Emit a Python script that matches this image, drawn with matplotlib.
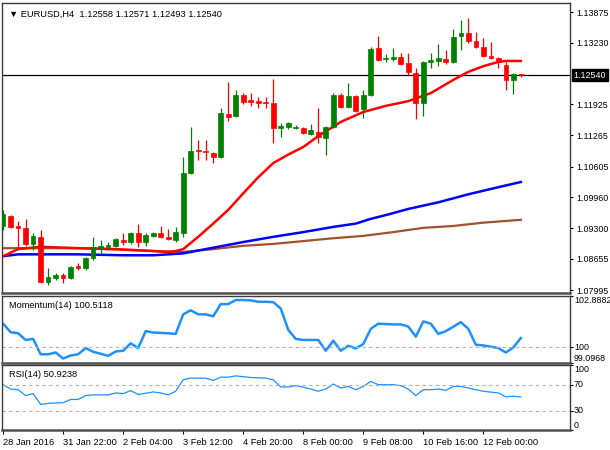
import matplotlib
matplotlib.use("Agg")
import matplotlib.pyplot as plt
import numpy as np

plt.rcParams["font.family"] = ["Liberation Sans", "DejaVu Sans"]

# EURUSD H4 candles
opens = [1.0935, 1.0956, 1.0935, 1.0931, 1.0897, 1.0912, 1.0817, 1.0825, 1.0831, 1.0825,
         1.0850, 1.0846, 1.0867, 1.0888, 1.0891, 1.0893, 1.0905, 1.0901, 1.0920, 1.0901,
         1.0914, 1.0920, 1.0912, 1.0905, 1.0920, 1.1047, 1.1096, 1.1094, 1.1089, 1.1081,
         1.1172, 1.1168, 1.1212, 1.1201, 1.1199, 1.1197, 1.1195, 1.1142, 1.1144, 1.1142,
         1.1142, 1.1130, 1.1134, 1.1121, 1.1144, 1.1212, 1.1187, 1.1210, 1.1182, 1.1212,
         1.1311, 1.1288, 1.1288, 1.1292, 1.1280, 1.1258, 1.1195, 1.1282, 1.1284, 1.1288,
         1.1282, 1.1337, 1.1343, 1.1326, 1.1314, 1.1295, 1.1290, 1.1275, 1.1244, 1.12558]
highs = [1.0969, 1.0958, 1.0946, 1.0950, 1.0920, 1.0926, 1.0846, 1.0836, 1.0836, 1.0850,
         1.0857, 1.0869, 1.0912, 1.0905, 1.0901, 1.0910, 1.0920, 1.0922, 1.0939, 1.0920,
         1.0922, 1.0935, 1.0929, 1.0933, 1.1081, 1.1144, 1.1117, 1.1117, 1.1091, 1.1185,
         1.1240, 1.1223, 1.1216, 1.1216, 1.1208, 1.1208, 1.1246, 1.1153, 1.1155, 1.1149,
         1.1144, 1.1151, 1.1185, 1.1146, 1.1216, 1.1216, 1.1237, 1.1212, 1.1223, 1.1313,
         1.1337, 1.1299, 1.1311, 1.1301, 1.1301, 1.1269, 1.1284, 1.1301, 1.1320, 1.1307,
         1.1352, 1.1371, 1.1375, 1.1345, 1.1333, 1.1324, 1.1292, 1.1282, 1.1258, 1.12571]
lows = [1.0927, 1.0931, 1.0886, 1.0893, 1.0884, 1.0814, 1.0810, 1.0821, 1.0814, 1.0823,
        1.0842, 1.0842, 1.0863, 1.0876, 1.0884, 1.0891, 1.0895, 1.0897, 1.0891, 1.0893,
        1.0912, 1.0910, 1.0905, 1.0901, 1.0912, 1.1045, 1.1075, 1.1075, 1.1068, 1.1079,
        1.1157, 1.1165, 1.1193, 1.1189, 1.1185, 1.1185, 1.1111, 1.1123, 1.1140, 1.1140,
        1.1130, 1.1127, 1.1111, 1.1085, 1.1142, 1.1185, 1.1185, 1.1176, 1.1163, 1.1210,
        1.1284, 1.1282, 1.1284, 1.1275, 1.1254, 1.1161, 1.1168, 1.1269, 1.1273, 1.1278,
        1.1280, 1.1307, 1.1322, 1.1311, 1.1292, 1.1288, 1.1269, 1.1223, 1.1214, 1.12493]
closes = [1.0960, 1.0933, 1.0931, 1.0897, 1.0914, 1.0817, 1.0827, 1.0831, 1.0825, 1.0848,
          1.0846, 1.0867, 1.0891, 1.0893, 1.0895, 1.0907, 1.0901, 1.0920, 1.0901, 1.0916,
          1.0920, 1.0912, 1.0907, 1.0922, 1.1047, 1.1094, 1.1094, 1.1091, 1.1081, 1.1174,
          1.1165, 1.1212, 1.1197, 1.1197, 1.1195, 1.1195, 1.1142, 1.1146, 1.1153, 1.1144,
          1.1132, 1.1138, 1.1123, 1.1144, 1.1212, 1.1187, 1.1210, 1.1178, 1.1212, 1.1309,
          1.1286, 1.1290, 1.1292, 1.1278, 1.1261, 1.1195, 1.1282, 1.1286, 1.1290, 1.1282,
          1.1335, 1.1343, 1.1326, 1.1314, 1.1295, 1.1290, 1.1282, 1.1244, 1.1256, 1.12540]

# moving averages read at some bars
ma_red_idx = [0, 2, 5, 10, 15, 20, 22, 23, 24, 25, 26, 27, 28, 30, 32, 34, 36, 38, 40,
              42, 45, 48, 51, 54, 57, 60, 62, 64, 66, 67, 69]
ma_red = [1.0871, 1.0886, 1.0891, 1.0888, 1.0886, 1.0882, 1.0880, 1.0882, 1.0886, 1.0899,
          1.0912, 1.0926, 1.0940, 1.0969, 1.1004, 1.1038, 1.1068, 1.1086, 1.1102,
          1.1125, 1.1155, 1.1176, 1.1189, 1.1199, 1.1216, 1.1244, 1.1261, 1.1273,
          1.1282, 1.1284, 1.1284]
ma_blue_idx = [0, 2, 10, 16, 20, 24, 27, 32, 36, 40, 44, 47, 49, 51, 54, 58, 62, 66, 69]
ma_blue = [1.0871, 1.0875, 1.0875, 1.0873, 1.0873, 1.0877, 1.0886, 1.0901, 1.0912, 1.0922,
           1.0933, 1.0940, 1.0950, 1.0958, 1.0971, 1.0985, 1.1002, 1.1017, 1.1028]
ma_brown_idx = [0, 10, 14, 20, 24, 28, 32, 36, 40, 44, 48, 52, 56, 60, 64, 69]
ma_brown = [1.0888, 1.0888, 1.0886, 1.0882, 1.0880, 1.0886, 1.0893, 1.0897, 1.0903, 1.0909,
            1.0914, 1.0922, 1.0931, 1.0935, 1.0942, 1.0948]

momentum = [101.32, 100.84, 100.78, 100.40, 100.46, 99.59, 99.59, 99.69, 99.35, 99.52,
            99.59, 99.94, 99.73, 99.62, 99.50, 99.75, 99.79, 100.21, 99.94, 100.90,
            100.82, 100.80, 100.78, 100.74, 101.85, 102.08, 101.85, 101.85, 101.74, 102.43,
            102.43, 102.66, 102.66, 102.64, 102.56, 102.56, 102.54, 102.18, 100.97, 100.46,
            100.40, 100.40, 100.40, 99.79, 100.36, 99.79, 100.07, 99.92, 100.17, 101.03,
            101.32, 101.30, 101.28, 101.28, 101.16, 100.59, 101.45, 101.32, 100.74, 100.90,
            101.15, 101.41, 101.03, 100.13, 100.09, 100.02, 99.94, 99.69, 99.98, 100.51]
rsi = [69.7, 63.1, 62.1, 53.0, 56.0, 39.4, 41.0, 41.5, 42.0, 47.0,
       47.0, 53.0, 54.0, 54.0, 54.0, 57.0, 56.0, 60.6, 54.6, 56.5,
       58.6, 57.0, 54.0, 59.6, 77.3, 79.8, 79.8, 79.8, 76.3, 81.3,
       81.3, 83.3, 82.0, 80.8, 80.3, 79.8, 77.3, 66.2, 66.2, 68.2,
       66.0, 63.0, 59.6, 63.0, 70.7, 64.6, 67.0, 62.0, 67.0, 74.7,
       69.7, 69.7, 69.7, 68.2, 63.0, 53.0, 62.0, 62.0, 63.0, 61.0,
       67.0, 67.0, 64.6, 62.0, 59.6, 58.3, 57.0, 51.0, 52.0, 50.9]

date_idx = [0, 8, 16, 24, 32, 40, 48, 56, 64]
date_labels = ["28 Jan 2016", "31 Jan 22:00", "2 Feb 04:00", "3 Feb 12:00", "4 Feb 20:00",
               "8 Feb 00:00", "9 Feb 08:00", "10 Feb 16:00", "12 Feb 00:00"]
price_ticks = [1.13875, 1.13230, 1.11925, 1.11265, 1.10605, 1.09960, 1.09300, 1.08655, 1.07995]
last_price = 1.12540

W, H = 610, 450
fig = plt.figure(figsize=(W / 100, H / 100), dpi=100)
fig.patch.set_facecolor("white")


def px_axes(left, top, right, bottom):
    return fig.add_axes([left / W, 1 - bottom / H, (right - left) / W, (bottom - top) / H])


ax = px_axes(2, 3, 570, 293)
axm = px_axes(2, 296, 570, 363)
axr = px_axes(2, 365, 570, 430)

xlim = (-0.15, 75.55)
fs = 6.4

for a in (ax, axm, axr):
    a.set_xlim(*xlim)
    a.set_xticks([])
    for s in a.spines.values():
        s.set_color("#3c3c3c")
        s.set_linewidth(1.0)
    a.spines["bottom"].set_linewidth(1.8)
    a.spines["bottom"].set_color("#505050")
    a.yaxis.tick_right()
    a.tick_params(axis="y", length=2.5, width=0.8, pad=2, labelsize=fs, colors="black")

# candles
x = np.arange(len(opens))
o = np.array(opens)
c = np.array(closes)
up = c >= o
cols = np.where(up, "#008000", "#ff0000")
ax.vlines(x, lows, highs, colors=cols, linewidth=0.9, zorder=3)
bottoms = np.minimum(o, c)
heights = np.maximum(np.abs(c - o), 0.00012)
ax.bar(x, heights, bottom=bottoms, width=0.62, color=cols, edgecolor=cols,
       linewidth=0.5, zorder=4)

ax.plot(ma_brown_idx, ma_brown, color="#a0522d", lw=1.6, zorder=2)
ax.plot(ma_blue_idx, ma_blue, color="#0000ff", lw=1.8, zorder=2)
ax.plot(ma_red_idx, ma_red, color="#ff0000", lw=1.8, zorder=2)
ax.axhline(last_price, color="black", lw=0.9, zorder=1)

ax.set_ylim(1.07932, 1.14066)
ax.set_yticks(price_ticks)
ax.set_yticklabels([f"{t:.5f}" for t in price_ticks])
ax.text(1.006, last_price, f"{last_price:.5f}", transform=ax.get_yaxis_transform(),
        ha="left", va="center", fontsize=fs, color="white",
        bbox=dict(facecolor="black", edgecolor="black", pad=1.3), clip_on=False)
ax.text(0.012, 0.978, "\u25bc EURUSD,H4  1.12558 1.12571 1.12493 1.12540",
        transform=ax.transAxes, ha="left", va="top", fontsize=fs + 0.3)

# momentum
axm.plot(x, momentum, color="#1e90ff", lw=1.8)
axm.axhline(100, color="#b0b0b0", lw=0.8, ls=(0, (3, 3)))
axm.set_ylim(99.0968, 102.8882)
axm.set_yticks([102.8882, 100, 99.0968])
axm.set_yticklabels([])
for val, lab, va in [(102.8882, "102.8882", "top"), (100, "100", "center"),
                     (99.0968, "99.0968", "bottom")]:
    axm.text(1.007, val, lab, transform=axm.get_yaxis_transform(), ha="left", va=va,
             fontsize=fs, clip_on=False)
axm.text(0.012, 0.93, "Momentum(14) 100.5118", transform=axm.transAxes,
         ha="left", va="top", fontsize=fs + 0.3)

# rsi
axr.plot(x, rsi, color="#1e90ff", lw=0.9)
axr.axhline(70, color="#b0b0b0", lw=0.8, ls=(0, (3, 3)))
axr.axhline(30, color="#b0b0b0", lw=0.8, ls=(0, (3, 3)))
axr.set_ylim(0, 100)
axr.set_yticks([100, 70, 30, 0])
axr.set_yticklabels([])
for val, lab, va in [(100, "100", "top"), (70, "70", "center"), (30, "30", "center"),
                     (0, "0", "bottom")]:
    axr.text(1.007, val, lab, transform=axr.get_yaxis_transform(), ha="left", va=va,
             fontsize=fs, clip_on=False)
axr.text(0.012, 0.93, "RSI(14) 50.9238", transform=axr.transAxes,
         ha="left", va="top", fontsize=fs + 0.3)

axr.set_xticks(date_idx)
axr.set_xticklabels(date_labels, ha="left", fontsize=fs + 0.3)
axr.tick_params(axis="x", length=3, width=0.8, pad=3)

fig.savefig("out.png", dpi=100)
